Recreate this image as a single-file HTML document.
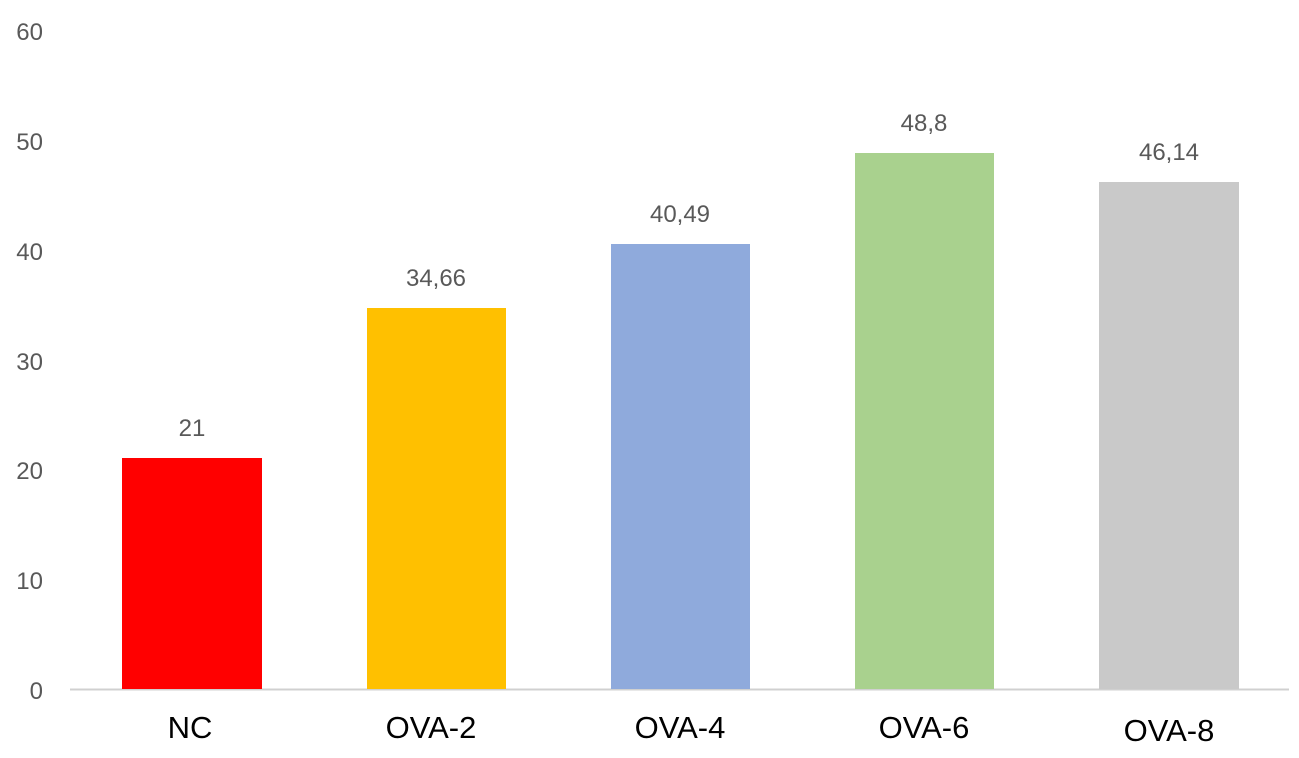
<!DOCTYPE html>
<html><head><meta charset="utf-8"><style>
html,body{margin:0;padding:0;background:#fff;}
body{width:1299px;height:753px;overflow:hidden;}
</style></head><body>
<svg width="1299" height="753" xmlns="http://www.w3.org/2000/svg" font-family="Liberation Sans, sans-serif">
<g fill="#595959" font-size="24" text-anchor="end">
<text x="43" y="40">60</text>
<text x="43" y="150">50</text>
<text x="43" y="260">40</text>
<text x="43" y="370">30</text>
<text x="43" y="479">20</text>
<text x="43" y="589">10</text>
<text x="43" y="699">0</text>
</g>
<line x1="70" y1="689.5" x2="1289" y2="689.5" stroke="#d0d0d0" stroke-width="2"/>
<rect x="122" y="458" width="140" height="231" fill="#ff0000"/>
<rect x="367" y="308" width="139" height="381" fill="#ffc000"/>
<rect x="611" y="244" width="139" height="445" fill="#8faadc"/>
<rect x="855" y="153" width="139" height="536" fill="#a9d18e"/>
<rect x="1099" y="182" width="140" height="507" fill="#c9c9c9"/>
<g fill="#595959" font-size="24" text-anchor="middle">
<text x="192" y="436">21</text>
<text x="436" y="286">34,66</text>
<text x="680" y="222">40,49</text>
<text x="924" y="131">48,8</text>
<text x="1169" y="160">46,14</text>
</g>
<g fill="#000" font-size="31" text-anchor="middle">
<text x="190" y="738">NC</text>
<text x="431" y="738">OVA-2</text>
<text x="680" y="738">OVA-4</text>
<text x="924" y="738">OVA-6</text>
<text x="1169" y="741">OVA-8</text>
</g>
</svg>
</body></html>
